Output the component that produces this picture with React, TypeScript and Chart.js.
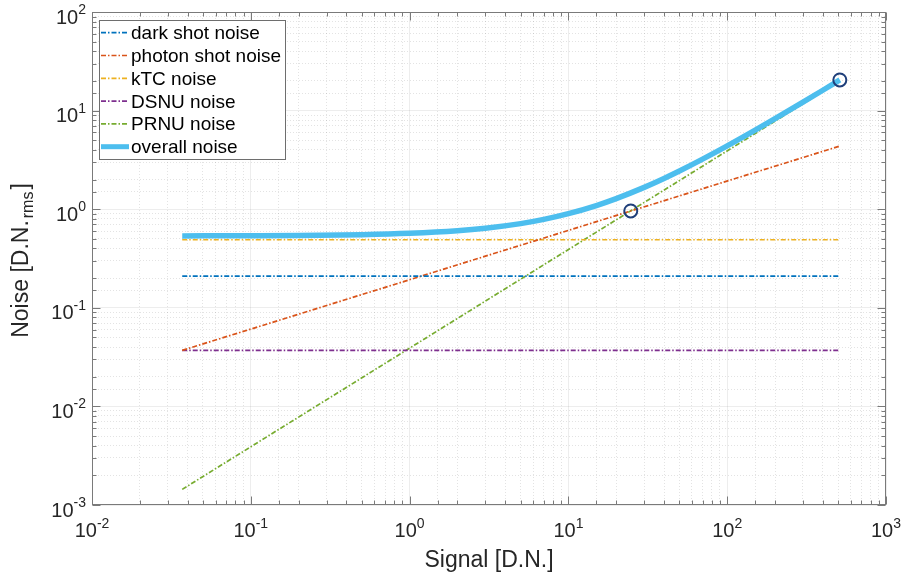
import React, { useEffect, useRef } from 'react';
import { Chart, registerables } from 'chart.js';

Chart.register(...registerables);

// ---- data ----
const signalEnds = [0.037, 512];
const darkShotNoise = [0.21, 0.21];
const photonShotNoise = [0.037, 4.37];
const ktcNoise = [0.49, 0.49];
const dsnuNoise = [0.037, 0.037];
const prnuNoise = [0.00144, 20.0];
const overallSignal = [0.037, 0.1, 0.2, 0.5, 1, 2, 3, 5, 7, 10, 15, 20, 30, 40, 50, 70, 100, 150, 200, 300, 400, 512];
const overallNoise = [0.536, 0.538, 0.541, 0.552, 0.570, 0.605, 0.641, 0.714, 0.788, 0.900, 1.089, 1.280, 1.665, 2.05, 2.439, 3.217, 4.384, 6.332, 8.281, 12.18, 16.08, 20.45];
const markerSignal = [24.7, 512];
const markerNoise = [0.96, 20.45];
const xTickExponents = [-2, -1, 0, 1, 2, 3];
const yTickExponents = [-3, -2, -1, 0, 1, 2];
const legendLabels = ['dark shot noise', 'photon shot noise', 'kTC noise', 'DSNU noise', 'PRNU noise', 'overall noise'];
const seriesColors = ['#0072BD', '#D95319', '#EDB120', '#7E2F8E', '#77AC30', '#4DBEEE'];
const xTitle = 'Signal [D.N.]';
const yTitleMain = 'Noise [D.N.';
const yTitleSub = 'rms';
const yTitleEnd = ']';

const FONT = '"Liberation Sans", Arial, Helvetica, sans-serif';
const DASH = [5, 2, 1.5, 2];
const AXIS_COLOR = '#7a7a7a';
const TEXT_COLOR = '#262626';

const pair = (ys: number[]) => signalEnds.map((x, i) => ({ x, y: ys[i] }));

const isPow10 = (v: number) => {
  const l = Math.log10(v);
  return Math.abs(l - Math.round(l)) < 1e-6;
};

const lineSeries = [darkShotNoise, photonShotNoise, ktcNoise, dsnuNoise, prnuNoise];

const decorPlugin = {
  id: 'decor',
  afterDatasetsDraw(chart: any) {
    const ctx: CanvasRenderingContext2D = chart.ctx;
    const { left, right, top, bottom } = chart.chartArea;
    const xs = chart.scales.x;
    const ys = chart.scales.y;
    ctx.save();

    // frame
    ctx.strokeStyle = AXIS_COLOR;
    ctx.lineWidth = 1;
    ctx.setLineDash([]);
    const L = Math.round(left) + 0.5, R = Math.round(right) - 0.5;
    const T = Math.round(top) + 0.5, B = Math.round(bottom) - 0.5;
    ctx.strokeRect(L, T, R - L, B - T);

    // inward ticks on all four sides
    ctx.beginPath();
    xs.ticks.forEach((t: any) => {
      const p = Math.round(xs.getPixelForValue(t.value)) + 0.5;
      const len = isPow10(t.value) ? 8 : 4;
      ctx.moveTo(p, B); ctx.lineTo(p, B - len);
      ctx.moveTo(p, T); ctx.lineTo(p, T + len);
    });
    ys.ticks.forEach((t: any) => {
      const p = Math.round(ys.getPixelForValue(t.value)) + 0.5;
      const len = isPow10(t.value) ? 8 : 4;
      ctx.moveTo(L, p); ctx.lineTo(L + len, p);
      ctx.moveTo(R, p); ctx.lineTo(R - len, p);
    });
    ctx.stroke();

    // tick labels 10^n
    ctx.fillStyle = TEXT_COLOR;
    ctx.textBaseline = 'alphabetic';
    ctx.textAlign = 'left';
    const baseFont = `20px ${FONT}`;
    const expFont = `14px ${FONT}`;
    const measure = (e: number) => {
      ctx.font = baseFont;
      const w1 = ctx.measureText('10').width;
      ctx.font = expFont;
      const w2 = ctx.measureText(String(e)).width;
      return [w1, w2];
    };
    xTickExponents.forEach((e) => {
      const px = xs.getPixelForValue(Math.pow(10, e));
      const [w1, w2] = measure(e);
      const sx = px - (w1 + w2) / 2;
      ctx.font = baseFont;
      ctx.fillText('10', sx, bottom + 32);
      ctx.font = expFont;
      ctx.fillText(String(e), sx + w1, bottom + 23);
    });
    yTickExponents.forEach((e) => {
      const py = ys.getPixelForValue(Math.pow(10, e));
      const [w1, w2] = measure(e);
      const sx = left - 6 - (w1 + w2);
      ctx.font = baseFont;
      ctx.fillText('10', sx, py + 11.5);
      ctx.font = expFont;
      ctx.fillText(String(e), sx + w1, py + 2);
    });

    // axis titles
    ctx.font = `23px ${FONT}`;
    ctx.textAlign = 'center';
    ctx.fillText(xTitle, (left + right) / 2, 567);

    ctx.save();
    ctx.translate(28, (top + bottom) / 2 + 2);
    ctx.rotate(-Math.PI / 2);
    ctx.textAlign = 'left';
    ctx.font = `23px ${FONT}`;
    const a = ctx.measureText(yTitleMain).width;
    const c = ctx.measureText(yTitleEnd).width;
    ctx.font = `16px ${FONT}`;
    const b = ctx.measureText(yTitleSub).width;
    const sx = -(a + b + c + 4) / 2;
    ctx.font = `23px ${FONT}`;
    ctx.fillText(yTitleMain, sx, 0);
    ctx.font = `16px ${FONT}`;
    ctx.fillText(yTitleSub, sx + a + 2, 5);
    ctx.font = `23px ${FONT}`;
    ctx.fillText(yTitleEnd, sx + a + b + 4, 0);
    ctx.restore();

    // legend
    const lx = 99.5, ly = 20.5, lw = 186, lh = 139;
    ctx.fillStyle = '#ffffff';
    ctx.fillRect(lx, ly, lw, lh);
    ctx.strokeStyle = '#6e6e6e';
    ctx.lineWidth = 1;
    ctx.strokeRect(lx, ly, lw, lh);
    legendLabels.forEach((label, i) => {
      const yy = 32.7 + i * 22.8;
      ctx.beginPath();
      ctx.strokeStyle = seriesColors[i];
      if (i === 5) {
        ctx.lineWidth = 5;
        ctx.setLineDash([]);
      } else {
        ctx.lineWidth = 1.7;
        ctx.setLineDash(DASH);
      }
      ctx.moveTo(101, yy);
      ctx.lineTo(129, yy);
      ctx.stroke();
      ctx.setLineDash([]);
      ctx.fillStyle = '#000000';
      ctx.font = `19px ${FONT}`;
      ctx.textAlign = 'left';
      ctx.fillText(label, 131, yy + 6.5);
    });

    ctx.restore();
  },
};

const gridColor = (c: any) => {
  if (!c.tick) return 'rgba(0,0,0,0)';
  return isPow10(c.tick.value) ? 'rgba(0,0,0,0.07)' : 'rgba(0,0,0,0.11)';
};
const gridDash = (c: any) => {
  if (!c.tick) return [];
  return isPow10(c.tick.value) ? [] : [1, 2];
};

export default function App() {
  const ref = useRef<HTMLCanvasElement>(null);
  useEffect(() => {
    const datasets: any[] = [];
    lineSeries.forEach((ys, i) => {
      datasets.push({
        label: legendLabels[i],
        data: pair(ys),
        borderColor: seriesColors[i],
        backgroundColor: seriesColors[i],
        borderWidth: 1.7,
        borderDash: DASH,
        pointRadius: 0,
        fill: false,
        order: 3 + i,
      });
    });
    datasets.push({
      label: legendLabels[5],
      data: overallSignal.map((x, i) => ({ x, y: overallNoise[i] })),
      borderColor: seriesColors[5],
      backgroundColor: seriesColors[5],
      borderWidth: 5.5,
      pointRadius: 0,
      cubicInterpolationMode: 'monotone',
      fill: false,
      order: 1,
    });
    datasets.push({
      label: 'markers',
      data: markerSignal.map((x, i) => ({ x, y: markerNoise[i] })),
      showLine: false,
      pointStyle: 'circle',
      pointRadius: 6.5,
      pointBorderWidth: 2,
      pointBorderColor: '#1f3f7a',
      pointBackgroundColor: 'rgba(0,0,0,0)',
      borderColor: '#1f3f7a',
      order: 0,
    });

    const chart = new Chart(ref.current as HTMLCanvasElement, {
      type: 'line',
      data: { datasets },
      options: {
        animation: false,
        responsive: false,
        devicePixelRatio: 1,
        events: [],
        layout: { padding: { left: 92, top: 12, right: 18, bottom: 74 } },
        plugins: { legend: { display: false }, tooltip: { enabled: false } },
        scales: {
          x: {
            type: 'logarithmic',
            min: 0.01,
            max: 1000,
            position: 'bottom',
            ticks: { display: false, autoSkip: false },
            grid: { drawTicks: false, color: gridColor, lineWidth: 1 },
            border: { display: false, dash: gridDash },
          },
          y: {
            type: 'logarithmic',
            min: 0.001,
            max: 100,
            position: 'left',
            ticks: { display: false, autoSkip: false },
            grid: { drawTicks: false, color: gridColor, lineWidth: 1 },
            border: { display: false, dash: gridDash },
          },
        },
      } as any,
      plugins: [decorPlugin],
    });
    return () => chart.destroy();
  }, []);
  return (
    <div style={{ position: 'fixed', left: 0, top: 0, width: 904, height: 579, background: '#ffffff' }}>
      <canvas ref={ref} width={904} height={579} style={{ display: 'block', width: 904, height: 579 }} />
    </div>
  );
}
